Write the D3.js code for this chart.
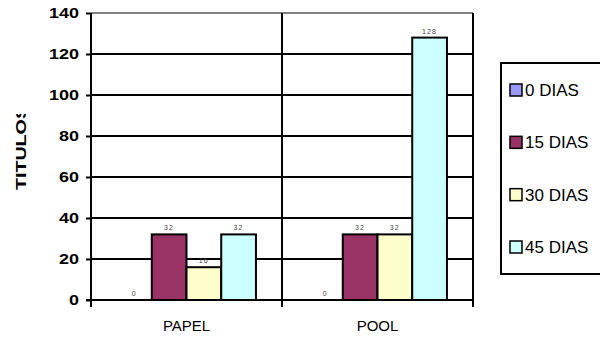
<!DOCTYPE html>
<html>
<head>
<meta charset="utf-8">
<script src="https://cdn.jsdelivr.net/npm/d3@7"></script>
<style>
  html, body { margin: 0; padding: 0; background: #fff; }
  svg { display: block; font-family: "Liberation Sans", Arial, sans-serif; }
</style>
</head>
<body>
<svg id="chart" width="600" height="339"></svg>
<script>
// Títulos por faixa de dias, agrupados por tipo
const categories = ["PAPEL", "POOL"];
const seriesNames = ["0 DIAS", "15 DIAS", "30 DIAS", "45 DIAS"];
const papelValues = [0, 32, 16, 32];
const poolValues = [0, 32, 32, 128];
const seriesColors = ["#9999FF", "#993366", "#FFFFCC", "#CCFFFF"];
const yTicks = [0, 20, 40, 60, 80, 100, 120, 140];
const yTitle = "TITULOS";

const FONT = "'Liberation Sans', Arial, sans-serif";

const rows = categories.map((c, i) => ({
  category: c,
  values: [papelValues, poolValues][i]
}));

const svg = d3.select("#chart");
const plot = { left: 91, right: 473, top: 13, bottom: 300 };

const x0 = d3.scaleBand()
  .domain(categories)
  .range([plot.left, plot.right])
  .paddingInner(0)
  .paddingOuter(0);

const x1 = d3.scaleBand()
  .domain(seriesNames)
  .range([0, x0.bandwidth()])
  .paddingInner(0)
  .paddingOuter(0.75);

const y = d3.scaleLinear().domain([0, 140]).range([plot.bottom, plot.top]);

// horizontal gridlines
svg.append("g")
  .selectAll("line")
  .data(yTicks.filter(t => t > 0))
  .join("line")
  .attr("x1", plot.left)
  .attr("x2", plot.right)
  .attr("y1", d => y(d))
  .attr("y2", d => y(d))
  .attr("stroke", d => d === 140 ? "#808080" : "#000")
  .attr("stroke-width", 2);

// vertical separators between categories (also serve as category ticks)
const bounds = categories.map(c => x0(c) + x0.bandwidth());
svg.append("g")
  .selectAll("line")
  .data(bounds)
  .join("line")
  .attr("x1", d => d)
  .attr("x2", d => d)
  .attr("y1", plot.top)
  .attr("y2", plot.bottom + 7)
  .attr("stroke", "#000")
  .attr("stroke-width", 2);

// bars
const groups = svg.append("g")
  .selectAll("g")
  .data(rows)
  .join("g")
  .attr("transform", d => `translate(${x0(d.category)},0)`);

groups.selectAll("rect")
  .data(d => d.values.map((v, i) => ({ name: seriesNames[i], value: v, color: seriesColors[i] })))
  .join("rect")
  .filter(d => d.value > 0)
  .attr("x", d => x1(d.name))
  .attr("width", x1.bandwidth())
  .attr("y", d => y(d.value))
  .attr("height", d => y(0) - y(d.value))
  .attr("fill", d => d.color)
  .attr("stroke", "#000")
  .attr("stroke-width", 2);

groups.selectAll("text")
  .data(d => d.values.map((v, i) => ({ name: seriesNames[i], value: v })))
  .join("text")
  .attr("x", d => x1(d.name) + x1.bandwidth() / 2)
  .attr("y", d => y(d.value) - 4)
  .attr("text-anchor", "middle")
  .attr("font-size", 7)
  .attr("letter-spacing", 1.2)
  .attr("fill", "#444")
  .text(d => d.value);

// y axis
const yAxis = d3.axisLeft(y).tickValues(yTicks).tickSize(5).tickPadding(7);
const gy = svg.append("g")
  .attr("transform", `translate(${plot.left},0)`)
  .call(yAxis);
gy.select(".domain").remove();
gy.selectAll(".tick line").attr("stroke", "#000").attr("stroke-width", 2);
gy.selectAll(".tick text")
  .attr("font-family", FONT)
  .attr("font-size", 14)
  .attr("font-weight", "bold")
  .attr("fill", "#000")
  .attr("textLength", d => String(d).length * 10)
  .attr("lengthAdjust", "spacingAndGlyphs");
gy.append("line")
  .attr("x1", 0).attr("x2", 0)
  .attr("y1", plot.top).attr("y2", plot.bottom + 7)
  .attr("stroke", "#000").attr("stroke-width", 2);

// x axis baseline and category labels
const xAxis = d3.axisBottom(x0).tickSize(0).tickPadding(20);
const gx = svg.append("g")
  .attr("transform", `translate(0,${plot.bottom})`)
  .call(xAxis);
gx.select(".domain").remove();
gx.selectAll(".tick text")
  .attr("font-family", FONT)
  .attr("font-size", 15)
  .attr("fill", "#000");
svg.append("line")
  .attr("x1", plot.left - 5).attr("x2", plot.right)
  .attr("y1", plot.bottom).attr("y2", plot.bottom)
  .attr("stroke", "#000").attr("stroke-width", 2);

// y axis title, cut off at the top edge of its box
svg.append("clipPath").attr("id", "titleClip")
  .append("rect").attr("x", 0).attr("y", 114).attr("width", 40).attr("height", 100);
svg.append("g")
  .attr("clip-path", "url(#titleClip)")
  .append("text")
  .attr("transform", "translate(26,190) rotate(-90)")
  .attr("font-size", 15)
  .attr("font-weight", "bold")
  .attr("fill", "#000")
  .attr("textLength", 84)
  .attr("lengthAdjust", "spacingAndGlyphs")
  .text(yTitle);

// legend
const legend = svg.append("g");
legend.append("rect")
  .attr("x", 501).attr("y", 63)
  .attr("width", 110).attr("height", 211)
  .attr("fill", "#fff").attr("stroke", "#000").attr("stroke-width", 2);

const ly = d3.scalePoint().domain(seriesNames).range([90, 247]);
const items = legend.selectAll("g.item")
  .data(seriesNames)
  .join("g")
  .attr("class", "item")
  .attr("transform", d => `translate(510,${ly(d)})`);
items.append("rect")
  .attr("x", 0).attr("y", -6)
  .attr("width", 12).attr("height", 12)
  .attr("fill", (d, i) => seriesColors[i])
  .attr("stroke", "#000").attr("stroke-width", 1.5);
items.append("text")
  .attr("x", 15).attr("y", 6)
  .attr("font-size", 17)
  .attr("fill", "#000")
  .text(d => d);
</script>
</body>
</html>
